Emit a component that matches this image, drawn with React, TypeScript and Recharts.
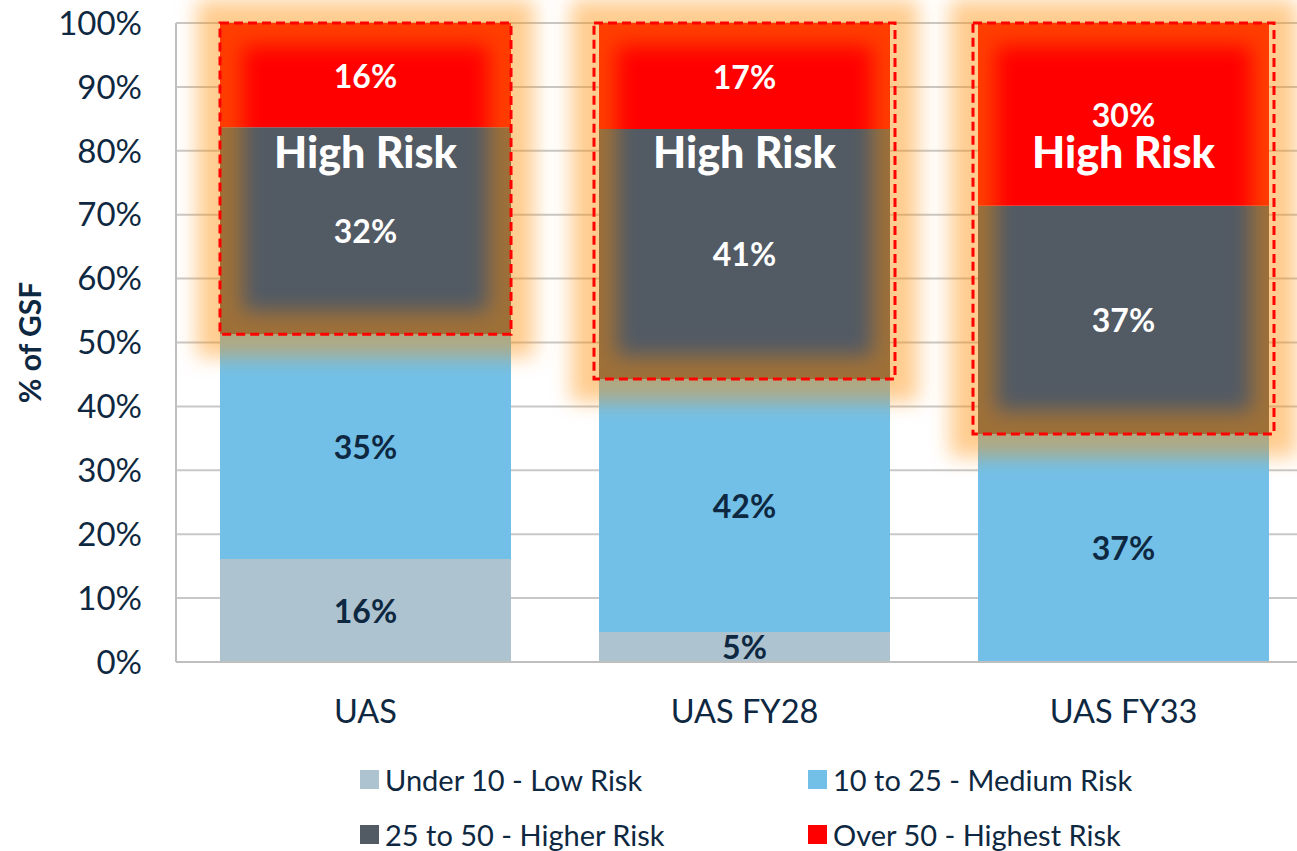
import { BarChart, Bar, XAxis, YAxis, CartesianGrid, ReferenceArea, LabelList } from "recharts";

const categories = ["UAS", "UAS FY28", "UAS FY33"];

// shares of GSF per risk band
const lowRisk = [16.1, 4.7, 0];
const mediumRisk = [35.2, 39.6, 35.7];
const higherRisk = [32.4, 39.1, 35.7];
const highestRisk = [16.3, 16.6, 28.6];

// the printed labels (as in the source, not always equal to bar heights)
const lowLabels = ["16%", "5%", ""];
const mediumLabels = ["35%", "42%", "37%"];
const higherLabels = ["32%", "41%", "37%"];
const highestLabels = ["16%", "17%", "30%"];

const yTicks = [0, 10, 20, 30, 40, 50, 60, 70, 80, 90, 100];

const FONT = "Lato, 'Open Sans', sans-serif";
const NAVY = "#0E2841";
const BAR_W = 291;

const series = [
  { key: "low", name: "Under 10 - Low Risk", color: "#ADC3D0", text: NAVY, labels: lowLabels },
  { key: "medium", name: "10 to 25 - Medium Risk", color: "#72C0E8", text: NAVY, labels: mediumLabels },
  { key: "higher", name: "25 to 50 - Higher Risk", color: "#525A64", text: "#FFFFFF", labels: higherLabels },
  { key: "highest", name: "Over 50 - Highest Risk", color: "#FF0000", text: "#FFFFFF", labels: highestLabels },
];

const data = categories.map((name, i) => ({
  name,
  low: lowRisk[i],
  medium: mediumRisk[i],
  higher: higherRisk[i],
  highest: highestRisk[i],
}));

function segLabel(labels: string[], color: string) {
  return (props: any) => {
    const { x, y, width, height, index } = props;
    const text = labels[index];
    if (!text || !height) return null;
    return (
      <text
        x={x + width / 2}
        y={y + height / 2}
        textAnchor="middle"
        dominantBaseline="central"
        fill={color}
        fontFamily={FONT}
        fontWeight={700}
        fontSize={32}
      >
        {text}
      </text>
    );
  };
}

function GlowBox(props: any) {
  const { x, y, width, height, idx } = props;
  const cx = x + width / 2;
  const pad = idx === 0 ? 0 : 5;
  const bx = cx - BAR_W / 2 - pad;
  const bw = BAR_W + pad * 2;
  const id = `glow-${idx}`;
  return (
    <g>
      <defs>
        <filter id={id} x="-40%" y="-40%" width="180%" height="180%">
          <feGaussianBlur stdDeviation={10} />
        </filter>
      </defs>
      <rect
        x={bx}
        y={y}
        width={bw}
        height={height}
        fill="none"
        stroke="#FF8C00"
        strokeOpacity={0.44}
        strokeWidth={46}
        filter={`url(#${id})`}
      />
      <rect
        x={bx}
        y={y}
        width={bw}
        height={height}
        fill="none"
        stroke="#FF0000"
        strokeWidth={3}
        strokeDasharray="9 5"
      />
      <text
        x={cx}
        y={y + 128}
        textAnchor="middle"
        dominantBaseline="central"
        fill="#FFFFFF"
        fontFamily={FONT}
        fontWeight={900}
        fontSize={43}
      >
        High Risk
      </text>
    </g>
  );
}

export default function App() {
  return (
    <div
      style={{
        position: "fixed",
        left: 0,
        top: 0,
        width: 1297,
        height: 851,
        overflow: "hidden",
        background: "#FFFFFF",
        fontFamily: FONT,
      }}
    >
      <BarChart
        width={1320}
        height={851}
        data={data}
        margin={{ top: 23, right: 7, bottom: 89, left: 0 }}
        barSize={BAR_W}
      >
        <CartesianGrid vertical={false} stroke="#C8C8C8" strokeWidth={2} />
        <XAxis
          dataKey="name"
          axisLine={{ stroke: "#BFBFBF", strokeWidth: 2 }}
          tickLine={false}
          tickSize={0}
          tickMargin={38}
          height={100}
          tick={{ fill: NAVY, fontSize: 32.5, fontFamily: FONT }}
        />
        <YAxis
          width={176}
          domain={[0, 100]}
          ticks={yTicks}
          tickFormatter={(v: number) => `${v}%`}
          axisLine={{ stroke: "#BFBFBF", strokeWidth: 2 }}
          tickLine={false}
          tickSize={0}
          tickMargin={34}
          tick={{ fill: NAVY, fontSize: 33, fontFamily: FONT }}
          label={{
            value: "% of GSF",
            angle: -90,
            position: "insideLeft",
            offset: 30,
            style: { fill: NAVY, fontSize: 30, fontWeight: 700, fontFamily: FONT, textAnchor: "middle" },
          }}
        />
        {series.map((s) => (
          <Bar key={s.key} dataKey={s.key} stackId="risk" fill={s.color} isAnimationActive={false}>
            <LabelList dataKey={s.key} content={segLabel(s.labels, s.text)} />
          </Bar>
        ))}
        {categories.map((c, i) => (
          <ReferenceArea
            key={c}
            x1={c}
            x2={c}
            y1={lowRisk[i] + mediumRisk[i]}
            y2={100}
            ifOverflow="visible"
            zIndex={1500}
            shape={(p: any) => <GlowBox {...p} idx={i} />}
          />
        ))}
      </BarChart>
      {series.map((s, i) => (
        <div
          key={s.key}
          style={{
            position: "absolute",
            left: i % 2 === 0 ? 360 : 808,
            top: i < 2 ? 764 : 819,
            display: "flex",
            alignItems: "center",
            height: 30,
            color: NAVY,
            fontSize: 29,
            whiteSpace: "nowrap",
          }}
        >
          <span style={{ width: 19, height: 19, background: s.color, marginRight: 6, display: "inline-block" }} />
          {s.name}
        </div>
      ))}
    </div>
  );
}
